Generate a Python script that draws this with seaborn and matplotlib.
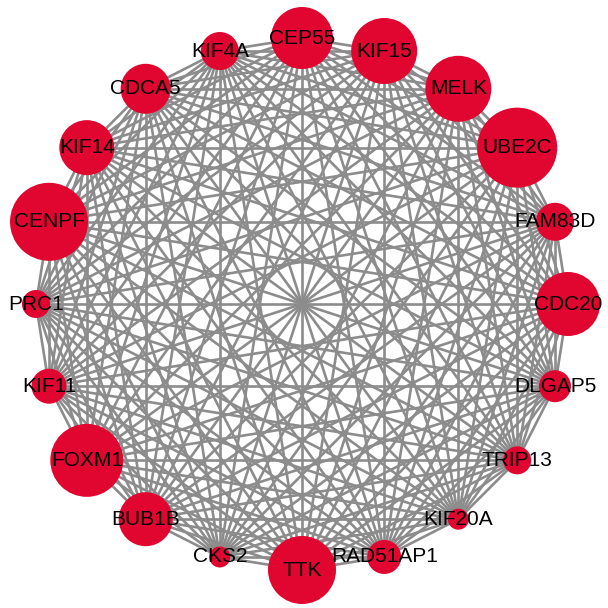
import itertools
import numpy as np
import pandas as pd
import matplotlib
matplotlib.use("Agg")
import matplotlib.pyplot as plt
import seaborn as sns
from matplotlib.collections import LineCollection

# Hub genes, clockwise from the top of the circle
genes = ["CEP55", "KIF15", "MELK", "UBE2C", "FAM83D", "CDC20", "DLGAP5",
         "TRIP13", "KIF20A", "RAD51AP1", "TTK", "CKS2", "BUB1B", "FOXM1",
         "KIF11", "PRC1", "CENPF", "KIF14", "CDCA5", "KIF4A"]
# Node weight (drawn as the node radius)
weight = [31, 33, 33, 40, 19, 32, 16, 14, 10.5, 17, 34, 10.5, 27, 36.5,
          17.5, 14, 39, 27.5, 25, 19]

DPI = 100
W = H = 608
cx, cy, R = 302, 304, 266

n = len(genes)
theta = np.deg2rad(90 - 360 * np.arange(n) / n)
nodes = pd.DataFrame({
    "gene": genes,
    "weight": weight,
    "x": cx + R * np.cos(theta),
    "y": cy - R * np.sin(theta),
})
# marker area in pt^2 from radius in pixels
nodes["size"] = (2 * nodes["weight"] * 72 / DPI) ** 2

sns.set_theme(style="white")
plt.rcParams["font.family"] = ["Liberation Sans", "DejaVu Sans"]

fig = plt.figure(figsize=(W / DPI, H / DPI), dpi=DPI)
ax = fig.add_axes([0, 0, 1, 1])
ax.set_xlim(0, W)
ax.set_ylim(H, 0)
ax.set_aspect("equal")
ax.axis("off")

# every pair of genes is linked
pts = nodes[["x", "y"]].to_numpy()
segs = [(pts[i], pts[j]) for i, j in itertools.combinations(range(n), 2)]
ax.add_collection(LineCollection(segs, colors="#8c8c8c", linewidths=1.9, zorder=1))

sns.scatterplot(data=nodes, x="x", y="y", size="size", sizes=(nodes["size"].min(), nodes["size"].max()),
                color="#e0062f", edgecolor="none", legend=False, ax=ax, zorder=2)

for _, r in nodes.iterrows():
    ax.text(r["x"], r["y"], r["gene"], ha="center", va="center",
            fontsize=15, color="black", zorder=3)

fig.savefig("out.png", dpi=DPI)
